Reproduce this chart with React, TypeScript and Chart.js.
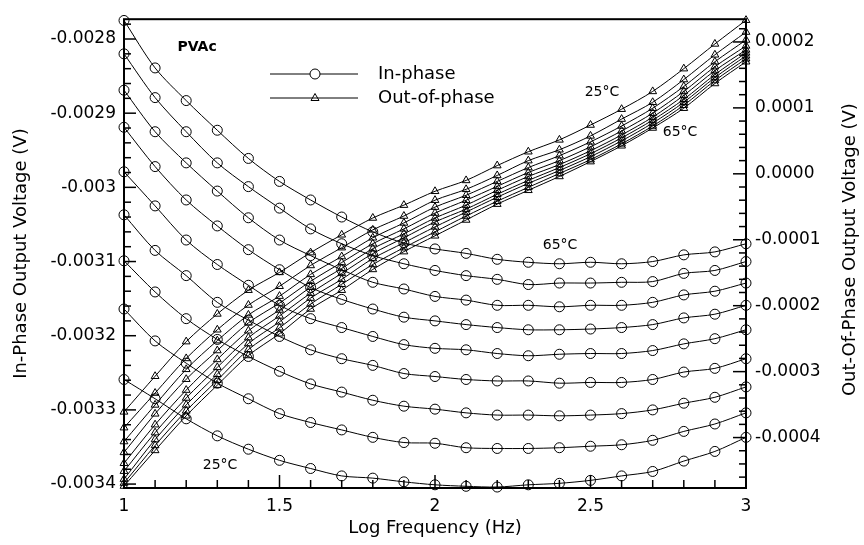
import React, { useEffect, useRef } from "react";
import { Chart, registerables } from "chart.js";

Chart.register(...registerables);

// ---------- DATA ----------
const LOG_FREQ = [1.0, 1.1, 1.2, 1.3, 1.4, 1.5, 1.6, 1.7, 1.8, 1.9, 2.0, 2.1, 2.2, 2.3, 2.4, 2.5, 2.6, 2.7, 2.8, 2.9, 3.0];

const TEMPS = ["25", "30", "35", "40", "45", "50", "55", "60", "65"];

// In-phase output voltage (V), left axis
const IN_25 = [-0.003259, -0.003285, -0.003312, -0.003335, -0.003353, -0.003368, -0.003379, -0.003389, -0.003392, -0.003397, -0.003401, -0.003403, -0.003404, -0.003401, -0.003399, -0.003395, -0.003389, -0.003383, -0.003369, -0.003356, -0.003337];
const IN_30 = [-0.003164, -0.003207, -0.003237, -0.003264, -0.003285, -0.003305, -0.003317, -0.003327, -0.003337, -0.003344, -0.003345, -0.003351, -0.003352, -0.003352, -0.003351, -0.003349, -0.003347, -0.003341, -0.003329, -0.003319, -0.003304];
const IN_35 = [-0.003099, -0.003141, -0.003177, -0.003205, -0.003228, -0.003248, -0.003265, -0.003276, -0.003287, -0.003295, -0.003299, -0.003304, -0.003307, -0.003307, -0.003308, -0.003307, -0.003305, -0.003300, -0.003291, -0.003283, -0.003269];
const IN_40 = [-0.003037, -0.003085, -0.003119, -0.003155, -0.003179, -0.003201, -0.003219, -0.003231, -0.003240, -0.003251, -0.003255, -0.003259, -0.003261, -0.003261, -0.003264, -0.003263, -0.003263, -0.003259, -0.003249, -0.003244, -0.003231];
const IN_45 = [-0.002979, -0.003025, -0.003071, -0.003104, -0.003132, -0.003159, -0.003177, -0.003189, -0.003201, -0.003212, -0.003217, -0.003219, -0.003224, -0.003227, -0.003225, -0.003224, -0.003224, -0.003220, -0.003211, -0.003204, -0.003192];
const IN_50 = [-0.002919, -0.002972, -0.003017, -0.003052, -0.003084, -0.003111, -0.003135, -0.003151, -0.003164, -0.003175, -0.003180, -0.003185, -0.003189, -0.003192, -0.003192, -0.003191, -0.003189, -0.003185, -0.003176, -0.003171, -0.003159];
const IN_55 = [-0.002869, -0.002925, -0.002967, -0.003005, -0.003041, -0.003071, -0.003092, -0.003111, -0.003128, -0.003137, -0.003147, -0.003152, -0.003159, -0.003159, -0.003161, -0.003159, -0.003159, -0.003155, -0.003145, -0.003140, -0.003129];
const IN_60 = [-0.002820, -0.002879, -0.002925, -0.002967, -0.002999, -0.003028, -0.003056, -0.003076, -0.003092, -0.003103, -0.003112, -0.003119, -0.003124, -0.003131, -0.003129, -0.003129, -0.003128, -0.003127, -0.003116, -0.003112, -0.003100];
const IN_65 = [-0.002775, -0.002839, -0.002883, -0.002923, -0.002961, -0.002992, -0.003017, -0.003040, -0.003060, -0.003075, -0.003083, -0.003089, -0.003097, -0.003101, -0.003103, -0.003101, -0.003103, -0.003100, -0.003091, -0.003087, -0.003076];

// Out-of-phase output voltage (V), right axis
const OUT_25 = [-0.000361, -0.000307, -0.0002545, -0.0002125, -0.0001765, -0.0001495, -0.0001195, -0.0000925, -0.000067, -0.0000475, -0.0000265, -0.00001, 0.0000125, 0.0000335, 0.0000515, 0.000074, 0.000098, 0.000125, 0.0001595, 0.000197, 0.000233];
const OUT_30 = [-0.000385, -0.0003325, -0.00028, -0.0002365, -0.000199, -0.0001705, -0.000139, -0.000112, -0.000085, -0.000064, -0.00004, -0.0000235, -0.0000025, 0.00002, 0.0000365, 0.0000575, 0.000083, 0.0001085, 0.000143, 0.0001805, 0.000215];
const OUT_35 = [-0.000406, -0.0003505, -0.0002965, -0.000253, -0.000214, -0.0001855, -0.0001525, -0.0001255, -0.000097, -0.0000745, -0.0000505, -0.0000325, -0.0000115, 0.0000095, 0.0000275, 0.0000485, 0.0000725, 0.0000995, 0.0001325, 0.00017, 0.000203];
const OUT_40 = [-0.0004225, -0.000364, -0.0003115, -0.000268, -0.000226, -0.000196, -0.000163, -0.0001345, -0.000106, -0.0000835, -0.0000595, -0.00004, -0.000019, 0.000002, 0.00002, 0.000041, 0.000065, 0.000092, 0.000125, 0.0001625, 0.000194];
const OUT_45 = [-0.000439, -0.0003805, -0.000328, -0.0002815, -0.000238, -0.0002065, -0.000172, -0.0001435, -0.0001135, -0.000091, -0.000067, -0.0000475, -0.000025, -0.000004, 0.000014, 0.000035, 0.000059, 0.000086, 0.000119, 0.0001565, 0.000188];
const OUT_50 = [-0.000451, -0.0003925, -0.00034, -0.0002935, -0.0002485, -0.0002155, -0.000181, -0.000151, -0.000121, -0.000097, -0.000073, -0.0000535, -0.000031, -0.00001, 0.0000095, 0.0000305, 0.0000545, 0.0000815, 0.000113, 0.0001505, 0.0001835];
const OUT_55 = [-0.000463, -0.000403, -0.0003505, -0.000304, -0.0002575, -0.0002245, -0.0001885, -0.00016, -0.0001285, -0.0001045, -0.0000805, -0.000058, -0.0000355, -0.0000145, 0.000005, 0.000026, 0.00005, 0.000077, 0.0001085, 0.000146, 0.000179];
const OUT_60 = [-0.000469, -0.000412, -0.0003595, -0.000313, -0.0002665, -0.0002335, -0.0001975, -0.0001675, -0.0001375, -0.000112, -0.000088, -0.000064, -0.0000415, -0.0000205, 0.0000005, 0.0000215, 0.0000455, 0.0000725, 0.000104, 0.0001415, 0.0001745];
const OUT_65 = [-0.0004735, -0.0004195, -0.000367, -0.0003205, -0.0002755, -0.0002425, -0.000205, -0.0001765, -0.000145, -0.000118, -0.000094, -0.00007, -0.000046, -0.000025, -0.000004, 0.0000185, 0.0000425, 0.0000695, 0.0000995, 0.000137, 0.00017];

const IN_SERIES = [IN_25, IN_30, IN_35, IN_40, IN_45, IN_50, IN_55, IN_60, IN_65];
const OUT_SERIES = [OUT_25, OUT_30, OUT_35, OUT_40, OUT_45, OUT_50, OUT_55, OUT_60, OUT_65];

const X_TICKS = [1, 1.5, 2, 2.5, 3];
const X_TICK_LABELS = ["1", "1.5", "2", "2.5", "3"];
const LEFT_TICKS = [-0.0028, -0.0029, -0.003, -0.0031, -0.0032, -0.0033, -0.0034];
const LEFT_TICK_LABELS = ["-0.0028", "-0.0029", "-0.003", "-0.0031", "-0.0032", "-0.0033", "-0.0034"];
const RIGHT_TICKS = [0.0002, 0.0001, 0, -0.0001, -0.0002, -0.0003, -0.0004];
const RIGHT_TICK_LABELS = ["0.0002", "0.0001", "0.0000", "-0.0001", "-0.0002", "-0.0003", "-0.0004"];

const X_TITLE = "Log Frequency (Hz)";
const LEFT_TITLE = "In-Phase Output Voltage (V)";
const RIGHT_TITLE = "Out-Of-Phase Output Voltage (V)";
const LEGEND_LABELS = ["In-phase", "Out-of-phase"];

// annotations: [text, x, axis, y, bold]
const ANNOTATIONS: [string, number, string, number, boolean][] = [
  ["PVAc", 1.235, "yL", -0.002811, true],
  ["25°C", 2.537, "yR", 0.0001235, false],
  ["65°C", 2.788, "yR", 0.0000635, false],
  ["65°C", 2.402, "yL", -0.0030787, false],
  ["25°C", 1.309, "yL", -0.0033747, false],
];

// ---------- STYLE ----------
const FONT = '"DejaVu Sans", sans-serif';

const decorPlugin = {
  id: "decor",
  afterDraw(chart: any) {
    const ctx = chart.ctx as CanvasRenderingContext2D;
    const { left, right, top, bottom } = chart.chartArea;
    const xs = chart.scales.x;
    const yl = chart.scales.yL;
    const yr = chart.scales.yR;
    ctx.save();
    ctx.strokeStyle = "#000";
    ctx.fillStyle = "#000";
    ctx.lineWidth = 2;
    ctx.strokeRect(left, top, right - left, bottom - top);

    const seg = (x1: number, y1: number, x2: number, y2: number) => {
      ctx.beginPath();
      ctx.moveTo(x1, y1);
      ctx.lineTo(x2, y2);
      ctx.stroke();
    };
    ctx.lineWidth = 1.5;
    for (let k = 10; k <= 30; k++) {
      const px = xs.getPixelForValue(k / 10);
      seg(px, bottom, px, bottom - (k % 5 === 0 ? 13 : 8));
    }
    for (let k = -171; k <= -138; k++) {
      const v = k * 0.00002;
      if (v < yl.min || v > yl.max) continue;
      const py = yl.getPixelForValue(v);
      seg(left, py, left + (k % 5 === 0 ? 12 : 7), py);
    }
    for (let k = -24; k <= 12; k++) {
      const v = k * 0.00002;
      if (v < yr.min || v > yr.max) continue;
      const py = yr.getPixelForValue(v);
      seg(right, py, right - (k % 5 === 0 ? 13 : 7), py);
    }

    // axis titles
    ctx.font = `18px ${FONT}`;
    ctx.textAlign = "center";
    ctx.textBaseline = "middle";
    ctx.fillText(X_TITLE, (left + right) / 2, 528);
    ctx.save();
    ctx.translate(21, (top + bottom) / 2);
    ctx.rotate(-Math.PI / 2);
    ctx.fillText(LEFT_TITLE, 0, 0);
    ctx.restore();
    ctx.save();
    ctx.translate(850, (top + bottom) / 2 - 4);
    ctx.rotate(-Math.PI / 2);
    ctx.fillText(RIGHT_TITLE, 0, 0);
    ctx.restore();

    // annotations
    for (const [text, xv, axis, yv, bold] of ANNOTATIONS) {
      const sc = chart.scales[axis];
      ctx.font = bold ? `bold 14px ${FONT}` : `14px ${FONT}`;
      ctx.fillText(text, xs.getPixelForValue(xv), sc.getPixelForValue(yv));
    }

    // legend
    const lx0 = 270, lx1 = 358, lxm = 315;
    const ly = [74, 98];
    ctx.lineWidth = 1;
    seg(lx0, ly[0], lx1, ly[0]);
    seg(lx0, ly[1], lx1, ly[1]);
    ctx.beginPath();
    ctx.arc(lxm, ly[0], 5, 0, Math.PI * 2);
    ctx.fillStyle = "#fff";
    ctx.fill();
    ctx.stroke();
    ctx.beginPath();
    ctx.moveTo(lxm, ly[1] - 4.5);
    ctx.lineTo(lxm + 4, ly[1] + 2.5);
    ctx.lineTo(lxm - 4, ly[1] + 2.5);
    ctx.closePath();
    ctx.stroke();
    ctx.fillStyle = "#000";
    ctx.font = `18px ${FONT}`;
    ctx.textAlign = "left";
    ctx.fillText(LEGEND_LABELS[0], 378, ly[0]);
    ctx.fillText(LEGEND_LABELS[1], 378, ly[1]);
    ctx.restore();
  },
};

export default function App() {
  const ref = useRef<HTMLCanvasElement>(null);
  useEffect(() => {
    const toPts = (arr: number[]) => LOG_FREQ.map((x, i) => ({ x, y: arr[i] }));
    const inSets = IN_SERIES.map((arr, i) => ({
      label: `In-phase ${TEMPS[i]}`,
      data: toPts(arr),
      yAxisID: "yL",
      borderColor: "#000",
      borderWidth: 1,
      backgroundColor: "rgba(0,0,0,0)",
      pointStyle: "circle",
      pointRadius: 5,
      pointBorderWidth: 1,
      pointBorderColor: "#000",
      pointBackgroundColor: "rgba(0,0,0,0)",
      tension: 0.3,
      clip: false,
    }));
    const outSets = OUT_SERIES.map((arr, i) => ({
      label: `Out-of-phase ${TEMPS[i]}`,
      data: toPts(arr),
      yAxisID: "yR",
      borderColor: "#000",
      borderWidth: 1,
      backgroundColor: "rgba(0,0,0,0)",
      pointStyle: "triangle",
      pointRadius: 4.5,
      pointBorderWidth: 1,
      pointBorderColor: "#000",
      pointBackgroundColor: "rgba(0,0,0,0)",
      tension: 0.3,
      clip: false,
    }));
    const tickFont = { family: FONT, size: 17 };
    const chart = new Chart(ref.current as HTMLCanvasElement, {
      type: "line",
      data: { datasets: [...inSets, ...outSets] as any },
      options: {
        responsive: false,
        animation: false,
        events: [],
        layout: { padding: { top: 14, left: 0, right: 0, bottom: 0 } },
        plugins: { legend: { display: false }, tooltip: { enabled: false }, title: { display: false } },
        scales: {
          x: {
            type: "linear",
            min: 1,
            max: 3,
            grid: { display: false, drawTicks: false },
            border: { display: false },
            afterBuildTicks: (s: any) => { s.ticks = X_TICKS.map((v) => ({ value: v })); },
            afterFit: (s: any) => { s.height = 57; },
            ticks: {
              font: tickFont,
              color: "#000",
              padding: 8,
              autoSkip: false,
              maxRotation: 0,
              callback: (_v: any, i: number) => X_TICK_LABELS[i],
            },
          },
          yL: {
            type: "linear",
            position: "left",
            min: -0.0034053,
            max: -0.0027733,
            grid: { display: false, drawTicks: false },
            border: { display: false },
            afterBuildTicks: (s: any) => { s.ticks = LEFT_TICKS.map((v) => ({ value: v })); },
            afterFit: (s: any) => { s.width = 124; },
            ticks: {
              font: tickFont,
              color: "#000",
              padding: 8,
              autoSkip: false,
              callback: (_v: any, i: number) => LEFT_TICK_LABELS[i],
            },
          },
          yR: {
            type: "linear",
            position: "right",
            min: -0.0004765,
            max: 0.0002345,
            grid: { display: false, drawTicks: false },
            border: { display: false },
            afterBuildTicks: (s: any) => { s.ticks = RIGHT_TICKS.map((v) => ({ value: v })); },
            afterFit: (s: any) => { s.width = 118; },
            ticks: {
              font: tickFont,
              color: "#000",
              padding: 9,
              autoSkip: false,
              callback: (_v: any, i: number) => RIGHT_TICK_LABELS[i],
            },
          },
        },
      } as any,
      plugins: [decorPlugin],
    });
    return () => chart.destroy();
  }, []);
  return (
    <div style={{ position: "absolute", left: 0, top: 0, width: 864, height: 545, background: "#fff" }}>
      <canvas ref={ref} width={864} height={545} style={{ display: "block", width: 864, height: 545 }} />
    </div>
  );
}
